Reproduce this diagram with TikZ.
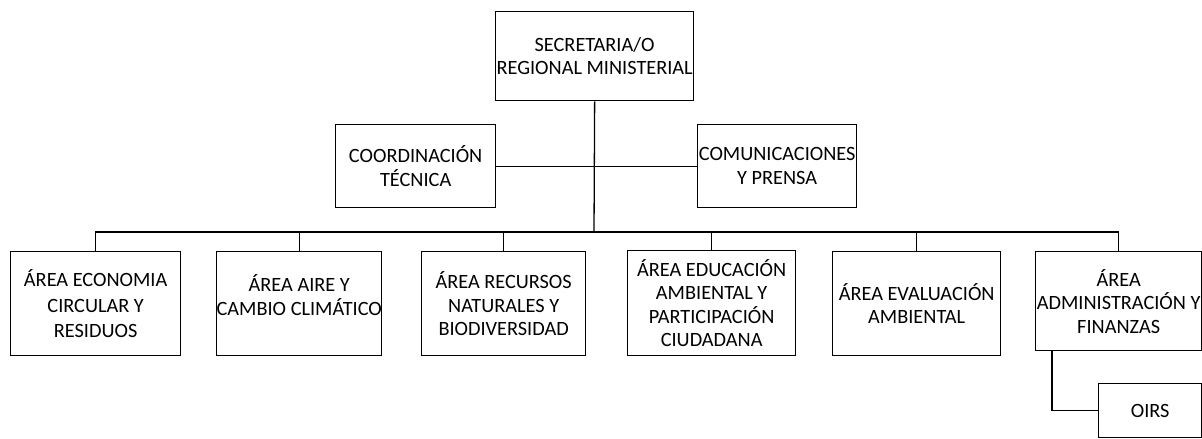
\documentclass[tikz,border=0pt]{standalone}
\usepackage{fontspec}
\setmainfont{Carlito}
\begin{document}
\begin{tikzpicture}[x=1pt,y=-1pt,
  orgbox/.style={draw=black, line width=1.3pt, inner sep=0pt, align=center,
    anchor=north west, font=\fontsize{20.3}{23.5}\selectfont},
  link/.style={draw=black, line width=1.3pt}]
\useasboundingbox (0,0) rectangle (1202,439);
\node[orgbox, minimum width=198pt, minimum height=89pt] (sec) at (495,11) {SECRETARIA/O\\REGIONAL MINISTERIAL};
\node[orgbox, minimum width=160pt, minimum height=83pt] (coord) at (335,124) {COORDINACIÓN\\TÉCNICA};
\node[orgbox, minimum width=159pt, minimum height=83pt] (com) at (697,124) {COMUNICACIONES\\Y PRENSA};
\node[orgbox, minimum width=170pt, minimum height=104pt] (a1) at (10,251) {ÁREA ECONOMIA\\[2pt]CIRCULAR Y\\[2pt]RESIDUOS};
\node[orgbox, minimum width=164pt, minimum height=104pt, text depth=17pt] (a2) at (216,251) {ÁREA AIRE Y\\CAMBIO CLIMÁTICO};
\node[orgbox, minimum width=164pt, minimum height=104pt] (a3) at (421,251) {ÁREA RECURSOS\\NATURALES Y\\BIODIVERSIDAD};
\node[orgbox, minimum width=168pt, minimum height=105pt] (a4) at (627,250) {ÁREA EDUCACIÓN\\AMBIENTAL Y\\PARTICIPACIÓN\\CIUDADANA};
\node[orgbox, minimum width=168pt, minimum height=104pt] (a5) at (832,251) {ÁREA EVALUACIÓN\\AMBIENTAL};
\node[orgbox, minimum width=166pt, minimum height=99pt] (a6) at (1035,251) {ÁREA\\ADMINISTRACIÓN Y\\FINANZAS};
\node[orgbox, minimum width=103pt, minimum height=54pt] (oirs) at (1098,383) {OIRS};
\coordinate (bar) at (594,232);
\draw[link] (sec.south) -- (bar);
\draw[link] (coord.east) -- (com.west);
\draw[link] (a1.north) -- (a1.north |- bar) -- (a6.north |- bar) -- (a6.north);
\foreach \n in {a2,a3,a4,a5} { \draw[link] (\n.north) -- (\n.north |- bar); }
\draw[link] ([xshift=17pt]a6.south west) |- (oirs.west);
\end{tikzpicture}
\end{document}
